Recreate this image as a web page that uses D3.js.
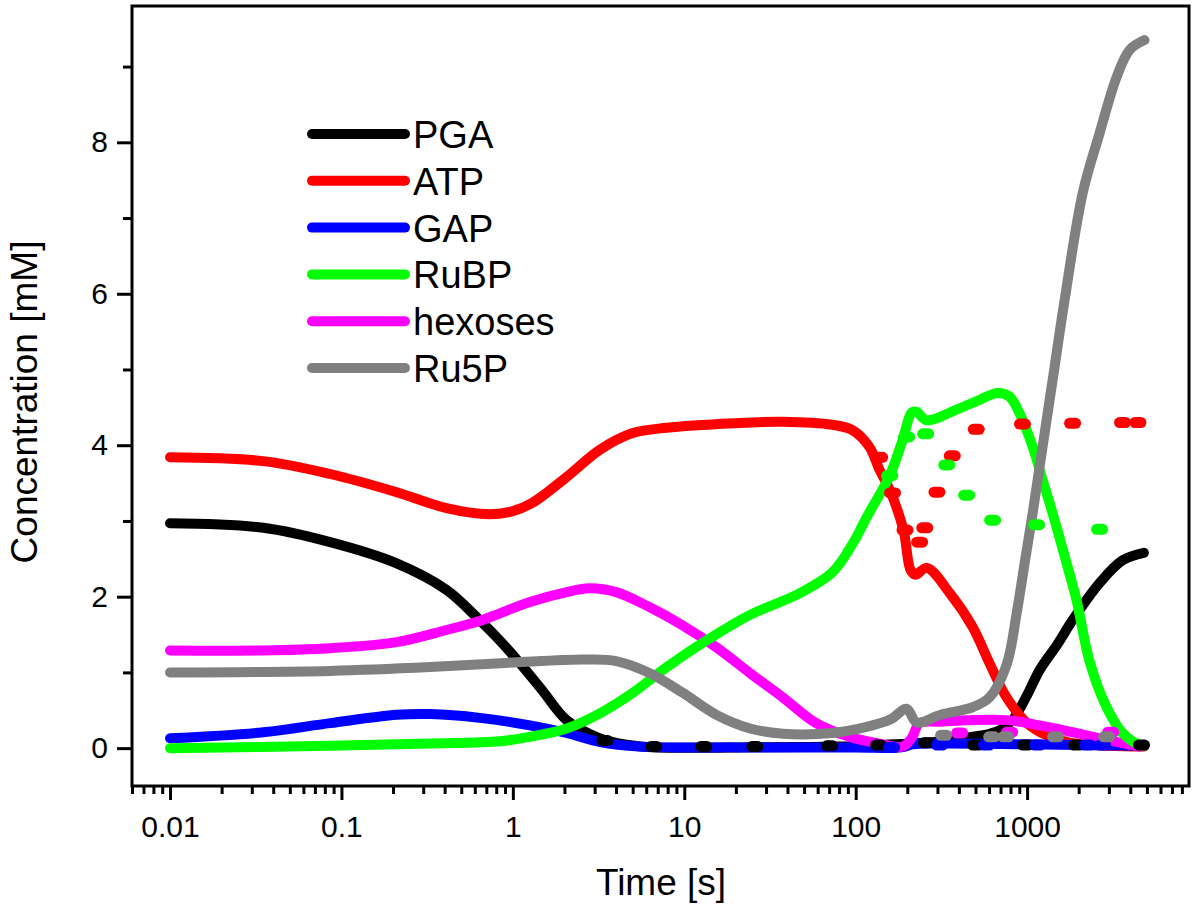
<!DOCTYPE html>
<html><head><meta charset="utf-8">
<script src="https://cdn.jsdelivr.net/npm/d3@7"></script>
<style>
body{margin:0;background:#fff}
svg{display:block}
text{font-family:"Liberation Sans",Arial,Helvetica,sans-serif;fill:#000}
</style>
</head><body>
<svg id="chart" width="1200" height="911"></svg>
<script>
// ---- data ----
const seriesNames  = ["PGA","ATP","GAP","RuBP","hexoses","Ru5P"];
const seriesColors = ["#000000","#ff0000","#0000ff","#00ff00","#ff00ff","#808080"];

const xMajorTicks = [0.01,0.1,1,10,100,1000];
const xTickLabels = ["0.01","0.1","1","10","100","1000"];
const yMajorTicks = [0,2,4,6,8];
const yMinorTicks = [1,3,5,7,9];

// solid curves (time [s], concentration [mM])
const pgaT  = [0.01,0.035,0.086,0.21,0.41,0.64,0.84,1.1,1.5,2.06,3.22,4.5,6.55,20,80,138,250,353,481,604,700,822,1000,1183,1500,1842,2648,3605,4800];
const pgaV  = [2.97,2.91,2.72,2.44,2.09,1.69,1.42,1.12,0.75,0.37,0.13,0.05,0.01,0.01,0.02,0.04,0.07,0.10,0.15,0.19,0.24,0.37,0.70,1.03,1.37,1.69,2.18,2.48,2.58];

const atpT  = [0.01,0.035,0.086,0.21,0.41,0.73,1.0,1.3,2.06,3.22,5.0,7.9,19.3,37.6,73,95.7,120,138,158,190,209,223,260,353,481,604,759,1000,1300,1800,3000,4800];
const atpV  = [3.84,3.79,3.62,3.38,3.17,3.09,3.13,3.24,3.58,3.94,4.16,4.23,4.29,4.31,4.27,4.20,3.98,3.67,3.41,2.88,2.35,2.29,2.38,2.05,1.60,1.12,0.67,0.33,0.17,0.07,0.03,0.02];

const gapT  = [0.01,0.035,0.086,0.21,0.33,0.64,1.26,2.06,3.22,5.5,20,100,185,215,300,1000,4800];
const gapV  = [0.13,0.21,0.33,0.44,0.45,0.40,0.30,0.20,0.08,0.02,0.01,0.01,0.01,0.05,0.06,0.05,0.03];

const rubpT = [0.01,0.086,0.33,0.84,1.26,2.06,3.22,5.0,7.9,14.1,24.2,46.7,73,96,116,158,188,212,227,259,388,529,673,791,904,1077,1231,1409,1700,1945,2312,2909,3605,4530,4800];
const rubpV = [0.00,0.03,0.06,0.09,0.15,0.26,0.46,0.73,1.07,1.45,1.76,2.04,2.32,2.70,3.05,3.60,4.07,4.43,4.44,4.33,4.47,4.60,4.69,4.64,4.42,3.98,3.54,3.10,2.44,1.95,1.15,0.54,0.20,0.04,0.03];

const hexT  = [0.01,0.035,0.086,0.21,0.41,0.64,0.84,1.26,2.06,2.8,4.0,6.3,9.8,15.4,24.2,37.6,58.8,91.6,131,188,213,236,312,759,1183,1842,2909,4530];
const hexV  = [1.29,1.29,1.32,1.40,1.56,1.68,1.78,1.93,2.06,2.11,2.06,1.86,1.62,1.33,0.99,0.67,0.33,0.15,0.07,0.02,0.14,0.33,0.35,0.37,0.30,0.21,0.11,0.02];

const ru5pT = [0.01,0.086,0.33,1.0,2.6,4.0,6.3,9.8,15.4,24.2,37.6,73,116,160,198,227,312,481,604,759,869,967,1077,1231,1409,1656,2110,2648,3326,3963,4842];
const ru5pV = [1.00,1.02,1.07,1.13,1.17,1.15,0.99,0.73,0.44,0.26,0.19,0.20,0.28,0.38,0.52,0.34,0.44,0.54,0.67,1.10,1.78,2.44,3.10,3.98,4.86,5.92,7.33,8.12,8.86,9.22,9.35];

// dotted (second run) points
const pgaDotT  = [3.44,6.64,13.0,25.8,70.5,136,259,501,980,1945,4650];
const pgaDotV  = [0.10,0.02,0.02,0.02,0.03,0.04,0.07,0.04,0.04,0.04,0.04];
const atpDotT  = [138,164,194,236,253,298,366,505,940,1842,3605,4430];
const atpDotV  = [3.84,3.37,2.88,2.72,2.91,3.38,3.86,4.21,4.28,4.29,4.30,4.30];
const gapDotT  = [162,309,580,1151,2254,2754];
const gapDotV  = [0.01,0.04,0.04,0.04,0.04,0.04];
const rubpDotT = [158,198,256,340,444,629,1136,2648];
const rubpDotV = [3.60,4.11,4.15,3.74,3.34,3.01,2.95,2.89];
const hexDotT  = [404,791,3070];
const hexDotV  = [0.20,0.21,0.21];
const ru5pDotT = [326,621,750,1466,2909];
const ru5pDotV = [0.17,0.15,0.15,0.15,0.15];

// ---- chart ----
const svg = d3.select("#chart");
const L = 132, R = 1189, T = 6, B = 786;
const x = d3.scaleLog().domain([0.006, 8800]).range([L, R]);
const y = d3.scaleLinear().domain([-0.5, 9.8]).range([B, T]);

const zip = (a, b) => a.map((t, i) => [t, b[i]]);
const solid = [zip(pgaT,pgaV), zip(atpT,atpV), zip(gapT,gapV), zip(rubpT,rubpV), zip(hexT,hexV), zip(ru5pT,ru5pV)];
const dots  = [zip(pgaDotT,pgaDotV), zip(atpDotT,atpDotV), zip(gapDotT,gapDotV), zip(rubpDotT,rubpDotV), zip(hexDotT,hexDotV), zip(ru5pDotT,ru5pDotV)];

const line = d3.line().x(d => x(d[0])).y(d => y(d[1])).curve(d3.curveCatmullRom.alpha(0.5));

// solid draw order: PGA, ATP, GAP, hexoses, RuBP, Ru5P
const solidOrder = [0,1,2,4,3,5];
const gPlot = svg.append("g");
solidOrder.forEach(i => {
  gPlot.append("path").datum(solid[i]).attr("d", line)
    .attr("fill","none").attr("stroke", seriesColors[i])
    .attr("stroke-width", 10).attr("stroke-linecap","round").attr("stroke-linejoin","round");
});
[0,1,2,3,4,5].forEach(i => {
  gPlot.selectAll(null).data(dots[i]).enter().append("line")
    .attr("x1", d => x(d[0]) - 3).attr("x2", d => x(d[0]) + 3)
    .attr("y1", d => y(d[1])).attr("y2", d => y(d[1]))
    .attr("stroke", seriesColors[i]).attr("stroke-width", 11).attr("stroke-linecap","round");
});

// axes
const xMinor = [];
for (let e = -3; e <= 3; e++) for (let m = 2; m <= 9; m++) {
  const v = m * Math.pow(10, e);
  if (v >= 0.006 && v <= 8800) xMinor.push(v);
}
const styleAxis = g => {
  g.select(".domain").remove();
  g.selectAll(".tick line").attr("stroke","#000").attr("stroke-width",3);
  g.selectAll("text").style("font-size","30px").attr("fill","#000");
};
svg.append("g").attr("transform",`translate(0,${B})`)
  .call(d3.axisBottom(x).tickValues(xMinor).tickSize(8).tickFormat(""))
  .call(styleAxis);
svg.append("g").attr("transform",`translate(0,${B})`)
  .call(d3.axisBottom(x).tickValues(xMajorTicks).tickSize(14).tickPadding(16)
        .tickFormat((d,i) => xTickLabels[i]))
  .call(styleAxis);
svg.append("g").attr("transform",`translate(${L},0)`)
  .call(d3.axisLeft(y).tickValues(yMinorTicks).tickSize(9).tickFormat(""))
  .call(styleAxis);
svg.append("g").attr("transform",`translate(${L},0)`)
  .call(d3.axisLeft(y).tickValues(yMajorTicks).tickSize(15).tickPadding(9).tickFormat(d3.format("d")))
  .call(styleAxis);

// frame
svg.append("rect").attr("x",L).attr("y",T).attr("width",R-L).attr("height",B-T)
  .attr("fill","none").attr("stroke","#000").attr("stroke-width",3);

// axis titles
svg.append("text").attr("x",661).attr("y",895).attr("text-anchor","middle")
  .style("font-size","37px").text("Time [s]");
svg.append("text").attr("transform","translate(37,402) rotate(-90)").attr("text-anchor","middle")
  .style("font-size","37px").text("Concentration [mM]");

// legend
const leg = svg.append("g");
seriesNames.forEach((n, i) => {
  const ly = 134 + i * 46.8;
  leg.append("line").attr("x1",312).attr("x2",405).attr("y1",ly).attr("y2",ly)
    .attr("stroke",seriesColors[i]).attr("stroke-width",10).attr("stroke-linecap","round");
  leg.append("text").attr("x",413).attr("y",ly+14).style("font-size","38px").text(n);
});
</script>
</body></html>
